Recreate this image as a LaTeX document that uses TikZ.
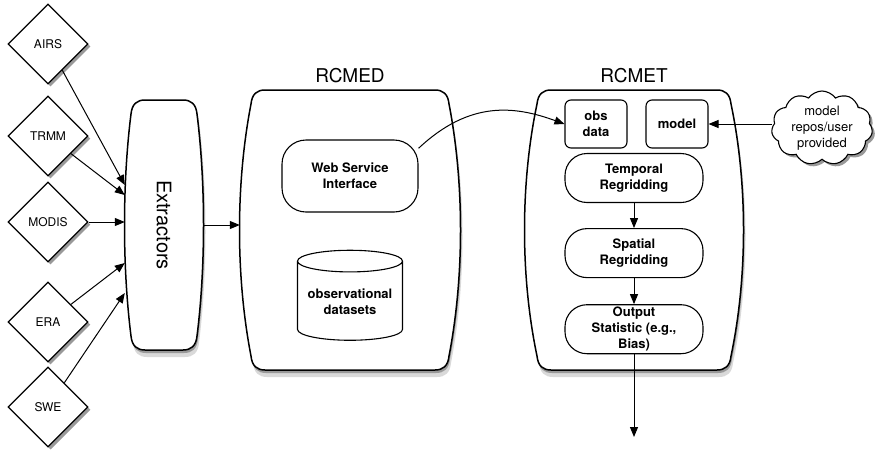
\documentclass[tikz,border=0pt]{standalone}
\usepackage{fontspec}
\setmainfont{TeX Gyre Heros}
\usetikzlibrary{shapes.geometric,shapes.symbols,arrows.meta,positioning,shadows}

\tikzset{
    barrelbox/.style={draw, fill=white, line width=1.5pt},
}

% outline of a barrel box: half width, half height, inset of the top edge
\newcommand{\barrelbody}[3]{%
    ({-#1+#3+12},{-#2}) -- ({#1-#3-12},{-#2})
    .. controls ({#1-#3-4},{-#2}) and ({#1-#3+1},{-#2+4}) .. ({#1-#3+2},{-#2+14})
    .. controls ({#1+#3/3},{-#2/3}) and ({#1+#3/3},{#2/3}) .. ({#1-#3+2},{#2-14})
    .. controls ({#1-#3+1},{#2-4}) and ({#1-#3-4},{#2}) .. ({#1-#3-12},{#2})
    -- ({-#1+#3+12},{#2})
    .. controls ({-#1+#3+4},{#2}) and ({-#1+#3-1},{#2-4}) .. ({-#1+#3-2},{#2-14})
    .. controls ({-#1-#3/3},{#2/3}) and ({-#1-#3/3},{-#2/3}) .. ({-#1+#3-2},{-#2+14})
    .. controls ({-#1+#3-1},{-#2+4}) and ({-#1+#3+4},{-#2}) .. ({-#1+#3+12},{-#2})
    -- cycle}
% barrel with its shadow: centre x, centre y, half width, half height, inset
\newcommand{\barrelshape}[5]{%
  \path[fill=black!15, shift={({#1+2},{#2+7})}] \barrelbody{#3}{#4}{#5};
  \path[fill=black!40, shift={({#1+1},{#2+3})}] \barrelbody{#3}{#4}{#5};
  \path[barrelbox, shift={(#1,#2)}] \barrelbody{#3}{#4}{#5};}

\begin{document}
\begin{tikzpicture}[
    x=1pt, y=-1pt,
    shadowed/.style={drop shadow={fill=black!40, opacity=1}},
    source/.style={diamond, draw, fill=white, line width=1.2pt, minimum width=80pt,
                   minimum height=80pt, inner sep=0pt,
                   font=\fontsize{12}{14}\selectfont, shadowed},
    container/.style={rectangle, inner sep=0pt},
    title/.style={font=\fontsize{19}{22}\selectfont},
    step box/.style={rectangle, draw, fill=white, line width=1.1pt, align=center,
                     inner sep=1pt, font=\fontsize{13}{16}\selectfont\bfseries},
    store/.style={cylinder, shape border rotate=90, aspect=0.25, draw, fill=white,
                  line width=1.1pt, align=center, inner sep=1pt,
                  font=\fontsize{13}{16}\selectfont\bfseries},
    cloudy/.style={cloud, cloud puffs=11, cloud puff arc=110, aspect=1.4, draw,
                   fill=white, line width=1.1pt, align=center, inner sep=-6pt,
                   minimum width=101pt, minimum height=74pt,
                   font=\fontsize{13}{16}\selectfont, shadowed},
    arrow/.style={-{Triangle[length=10pt,width=8pt]}, line width=1pt}
]
\useasboundingbox (0,0) rectangle (880,461);

% data sources
\node[source] (airs)  at (48,44)  {AIRS};
\node[source] (trmm)  at (48,136) {TRMM};
\node[source] (modis) at (48,222) {MODIS};
\node[source] (era)   at (48,322) {ERA};
\node[source] (swe)   at (48,407) {SWE};

% the three big boxes
\barrelshape{164}{225}{39}{125}{8}
\barrelshape{350}{230}{110}{140}{13}
\barrelshape{634}{230}{109}{140}{14}
\node[container, minimum width=78pt, minimum height=250pt,
      font=\fontsize{20}{22}\selectfont] (ext) at (164,225) {\rotatebox{-90}{Extractors}};
\node[container, minimum width=220pt, minimum height=280pt] (rcmed) at (350,230) {};
\node[container, minimum width=218pt, minimum height=280pt] (rcmet) at (634,230) {};
\node[title, above=3pt of rcmed] (rcmedtitle) {RCMED};
\node[title, above=3pt of rcmet] (rcmettitle) {RCMET};

% RCMED
\node[step box, rounded corners=24pt, minimum width=136pt, minimum height=72pt]
    (wsi) at (350,176) {Web Service\\Interface};
\node[store, minimum width=105pt, minimum height=90pt] (obsdb) at (350,302)
    {observational\\datasets};

% RCMET
\node[step box, rounded corners=6pt, minimum width=62pt, minimum height=48pt]
    (obs) at (596,124) {obs\\data};
\node[step box, rounded corners=6pt, minimum width=62pt, minimum height=48pt]
    (model) at (677,124) {model};
\node[step box, rounded corners=22pt, minimum width=138pt, minimum height=49pt]
    (temporal) at (634,178) {Temporal\\Regridding};
\node[step box, rounded corners=22pt, minimum width=138pt, minimum height=49pt,
      below=25pt of temporal] (spatial) {Spatial\\Regridding};
\node[step box, rounded corners=22pt, minimum width=138pt, minimum height=49pt,
      below=26pt of spatial] (output) {Output\\Statistic (e.g.,\\Bias)};

\node[cloudy] (repo) at (822,128) {model\\repos/user\\provided};
\coordinate (sink) at (634,437);

% connectors
\draw[arrow] (airs) -- ([yshift=40pt]ext.west);
\draw[arrow] (trmm) -- ([yshift=30pt]ext.west);
\draw[arrow] (modis) -- (modis -| ext.west);
\draw[arrow] (era) -- ([yshift=-38pt]ext.west);
\draw[arrow] (swe) -- ([yshift=-68pt]ext.west);
\draw[arrow] (ext.east) -- (ext.east -| rcmed.west);
\draw[arrow] (wsi.22) .. controls (470,100) and (515,106) .. (obs.west);
\draw[arrow] (model.east -| repo.west) -- (model.east);
\draw[arrow] (temporal) -- (spatial);
\draw[arrow] (spatial) -- (output);
\draw[arrow] (output.south) -- (sink);
\end{tikzpicture}
\end{document}
